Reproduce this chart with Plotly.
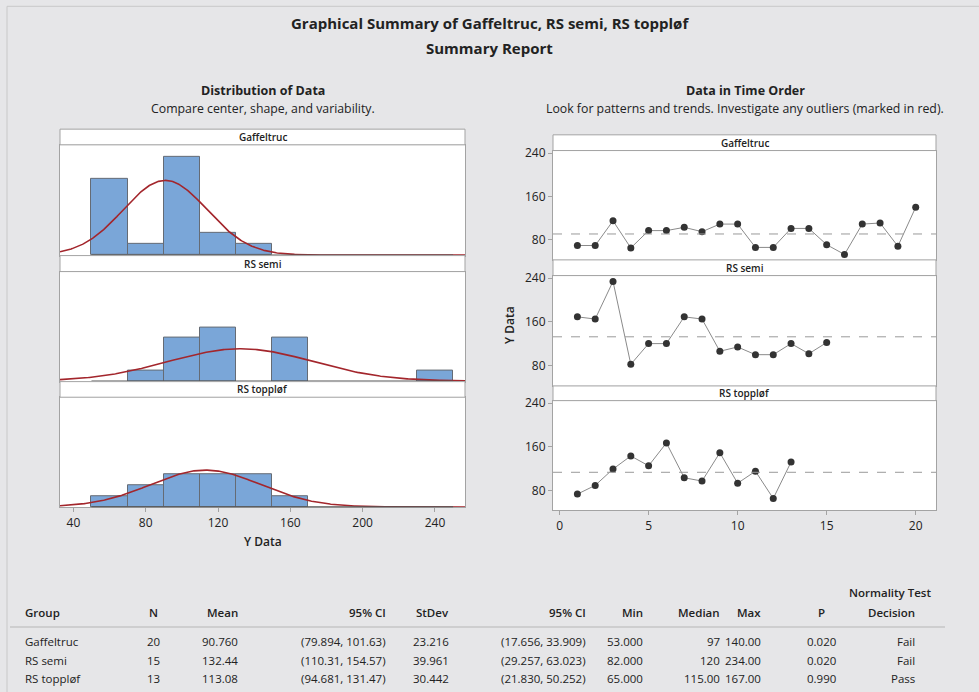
import numpy as np
import plotly.graph_objects as go

W, H = 979, 692

# ---------------- data ----------------
groups = ["Gaffeltruc", "RS semi", "RS toppløf"]
gaffeltruc = [69.5, 69.5, 115, 65, 97, 97, 103, 95, 109, 109, 66, 66, 101, 101, 71, 53, 109, 111, 68.2, 140]
rs_semi = [169, 165, 234, 82, 120, 120, 169, 165, 106, 113.8, 99.7, 99.7, 120, 101.5, 121.9]
rs_topplof = [73, 89, 119, 143, 125, 167, 103, 97, 149, 93, 115, 65, 132]
series = [gaffeltruc, rs_semi, rs_topplof]

bin_start, bin_end, bin_size = 50, 250, 20

# summary table
tab_n = [20, 15, 13]
tab_mean = [90.760, 132.44, 113.08]
tab_mean_txt = ["90.760", "132.44", "113.08"]
tab_ci_mean = ["(79.894, 101.63)", "(110.31, 154.57)", "(94.681, 131.47)"]
tab_stdev = [23.216, 39.961, 30.442]
tab_stdev_txt = ["23.216", "39.961", "30.442"]
tab_ci_sd = ["(17.656, 33.909)", "(29.257, 63.023)", "(21.830, 50.252)"]
tab_min = ["53.000", "82.000", "65.000"]
tab_median = ["97", "120", "115.00"]
tab_max = ["140.00", "234.00", "167.00"]
tab_p = ["0.020", "0.020", "0.990"]
tab_decision = ["Fail", "Fail", "Pass"]

hist_ticks = [40, 80, 120, 160, 200, 240]
time_xticks = [0, 5, 10, 15, 20]
time_yticks = [80, 160, 240]

# ---------------- style ----------------
FONT = "Open Sans"
BG = "#e6e6e8"
FRAME = "#a3a3a3"
BAR = "#7aa6d8"
BAR_LINE = "#656b74"
CURVE = "#a3262c"
TXT = "#222222"

# vertical calibration of the page capture
Y_OFF, Y_SCALE = 6.2, 0.991


def Y(t):
    return (t - Y_OFF) / Y_SCALE


def xd(a, b):
    return [a / W, b / W]


def yd(top, bottom):
    return [1 - Y(bottom) / H, 1 - Y(top) / H]


def px(x):
    return x / W


def py(y):
    return 1 - Y(y) / H


fig = go.Figure()

hist_x = [60, 465]
hist_rows = [(145, 255.7), (271.7, 381.7), (397.3, 507.5)]
hist_strips = [(129.3, 145), (255.7, 271.7), (381.7, 397.3)]
hist_range = [32.6, 256.6]

time_x = [553, 936]
time_rows = [(150.7, 260), (275.7, 385.7), (400.7, 510.5)]
time_strips = [(135, 150.7), (260, 275.7), (386, 400.7)]
time_range = [-0.37, 21.14]
time_yrange = [43, 244.6]

layout_axes = {}
shapes = []
annotations = []


def txt(t, x, y, size=12, weight=400, xanchor="center", color=TXT, **kw):
    annotations.append(dict(text=t, xref="paper", yref="paper", x=px(x), y=py(y),
                            xanchor=xanchor, yanchor="middle", showarrow=False,
                            font=dict(family=FONT, size=size, color=color, weight=weight), **kw))


xs_curve = np.linspace(hist_range[0], hist_range[1], 400)

for i, vals in enumerate(series):
    k = i + 1
    ax = "" if k == 1 else str(k)
    # histogram
    fig.add_trace(go.Histogram(
        x=vals, xbins=dict(start=bin_start, end=bin_end, size=bin_size),
        marker=dict(color=BAR, line=dict(color=BAR_LINE, width=1)),
        xaxis="x" + ax, yaxis="y" + ax, showlegend=False, hoverinfo="skip"))
    shapes.append(dict(type="line", xref="x" + ax, yref="y" + ax,
                       x0=bin_start, x1=bin_end, y0=0, y1=0,
                       line=dict(color="#555555", width=1.2)))
    # fitted normal curve
    m, s, n = tab_mean[i], tab_stdev[i], tab_n[i]
    yc = n * bin_size * np.exp(-0.5 * ((xs_curve - m) / s) ** 2) / (s * np.sqrt(2 * np.pi))
    fig.add_trace(go.Scatter(x=xs_curve, y=yc, mode="lines",
                             line=dict(color=CURVE, width=1.6),
                             xaxis="x" + ax, yaxis="y" + ax, showlegend=False, hoverinfo="skip"))
    top, bot = hist_rows[i]
    layout_axes["xaxis" + ax] = dict(
        domain=xd(*hist_x), range=hist_range, anchor="y" + ax,
        showgrid=False, zeroline=False, showline=True, mirror=True, linecolor=FRAME,
        tickvals=hist_ticks if k == 3 else [], showticklabels=(k == 3),
        ticks="outside" if k == 3 else "", ticklen=4, tickcolor=FRAME,
        tickfont=dict(family=FONT, size=12, color=TXT))
    layout_axes["yaxis" + ax] = dict(
        domain=yd(top, bot), range=[-0.05, 10.15], anchor="x" + ax,
        showgrid=False, zeroline=False, showline=True, mirror=True, linecolor=FRAME,
        showticklabels=False, ticks="")
    st, sb = hist_strips[i]
    shapes.append(dict(type="rect", xref="paper", yref="paper",
                       x0=px(hist_x[0]), x1=px(hist_x[1]), y0=py(sb), y1=py(st),
                       fillcolor="white", line=dict(color=FRAME, width=1)))
    txt(groups[i], (hist_x[0] + hist_x[1]) / 2, (st + sb) / 2, size=10, weight=600)

    # time order
    ax2 = str(k + 3)
    fig.add_trace(go.Scatter(
        x=list(range(1, len(vals) + 1)), y=vals, mode="lines+markers",
        line=dict(color="#8a8a8a", width=1),
        marker=dict(color="#333333", size=7),
        xaxis="x" + ax2, yaxis="y" + ax2, showlegend=False, hoverinfo="skip"))
    shapes.append(dict(type="line", xref="x" + ax2 + " domain", yref="y" + ax2,
                       x0=0, x1=1, y0=tab_mean[i], y1=tab_mean[i],
                       line=dict(color="#9a9a9a", width=1, dash="dash")))
    top, bot = time_rows[i]
    layout_axes["xaxis" + ax2] = dict(
        domain=xd(*time_x), range=time_range, anchor="y" + ax2,
        showgrid=False, zeroline=False, showline=True, mirror=True, linecolor=FRAME,
        tickvals=time_xticks if k == 3 else [], showticklabels=(k == 3),
        ticks="outside" if k == 3 else "", ticklen=4, tickcolor=FRAME,
        tickfont=dict(family=FONT, size=12, color=TXT))
    layout_axes["yaxis" + ax2] = dict(
        domain=yd(top, bot), range=time_yrange, anchor="x" + ax2,
        showgrid=False, zeroline=False, showline=True, mirror=True, linecolor=FRAME,
        tickvals=time_yticks, ticks="outside", ticklen=4, tickcolor=FRAME,
        tickfont=dict(family=FONT, size=12, color=TXT))
    st, sb = time_strips[i]
    shapes.append(dict(type="rect", xref="paper", yref="paper",
                       x0=px(time_x[0]), x1=px(time_x[1]), y0=py(sb), y1=py(st),
                       fillcolor="white", line=dict(color=FRAME, width=1)))
    txt(groups[i], (time_x[0] + time_x[1]) / 2, (st + sb) / 2, size=10, weight=600)


# titles
txt("Graphical Summary of Gaffeltruc, RS semi, RS toppløf", 490, 23, size=15, weight=700)
txt("Summary Report", 490, 48, size=15, weight=700)
txt("Distribution of Data", 263, 91, size=12.5, weight=700)
txt("Compare center, shape, and variability.", 263, 109, size=12.3)
txt("Data in Time Order", 745, 91, size=12.5, weight=700)
txt("Look for patterns and trends. Investigate any outliers (marked in red).", 745, 109, size=12.3)
txt("Y Data", 263, 542, size=12, weight=600)
txt("Y Data", 510, 325, size=12, weight=600, textangle=-90)

# summary table
TS = 11.5
cols = [("Group", 23, "left"), ("N", 153, "center"), ("Mean", 240, "right"),
        ("95% CI", 388, "right"), ("StDev", 451, "right"), ("95% CI", 588, "right"),
        ("Min", 645, "right"), ("Median", 722, "right"), ("Max", 763, "right"),
        ("P", 821, "center"), ("Decision", 917, "right")]
txt("Normality Test", 890, 593, size=TS, weight=600)
for name, x, anc in cols:
    txt(name, x, 612, size=TS, weight=600, xanchor=anc)
shapes.append(dict(type="line", xref="paper", yref="paper", x0=px(10), x1=px(945),
                   y0=py(627), y1=py(627), line=dict(color="#b5b5b5", width=1.2)))
row_y = [641, 660, 678]
for i in range(3):
    row = [groups[i], str(tab_n[i]), tab_mean_txt[i], tab_ci_mean[i], tab_stdev_txt[i],
           tab_ci_sd[i], tab_min[i], tab_median[i], tab_max[i], tab_p[i], tab_decision[i]]
    for (name, x, anc), v in zip(cols, row):
        txt(v, x, row_y[i], size=TS, xanchor=anc)

# outer frame edges
shapes.append(dict(type="line", xref="paper", yref="paper", x0=px(7), x1=px(7),
                   y0=0, y1=min(1, py(6.5)), line=dict(color="#c8c8c8", width=1)))
shapes.append(dict(type="line", xref="paper", yref="paper", x0=px(7), x1=1,
                   y0=min(1, py(6.5)), y1=min(1, py(6.5)), line=dict(color="#c8c8c8", width=1)))

fig.update_layout(
    width=W, height=H, margin=dict(l=0, r=0, t=0, b=0),
    paper_bgcolor=BG, plot_bgcolor="white",
    bargap=0, barmode="overlay", showlegend=False,
    shapes=shapes, annotations=annotations,
    font=dict(family=FONT, color=TXT),
    **layout_axes)

post = ("document.body.style.margin='0px';document.body.style.padding='0px';"
        "document.body.style.overflow='hidden';document.body.style.background='" + BG + "';"
        "var gd=document.getElementById('{plot_id}');"
        "gd.style.position='absolute';gd.style.top='0px';gd.style.left='0px';")
fig.write_html("out.html", config={"displayModeBar": False}, post_script=post)
